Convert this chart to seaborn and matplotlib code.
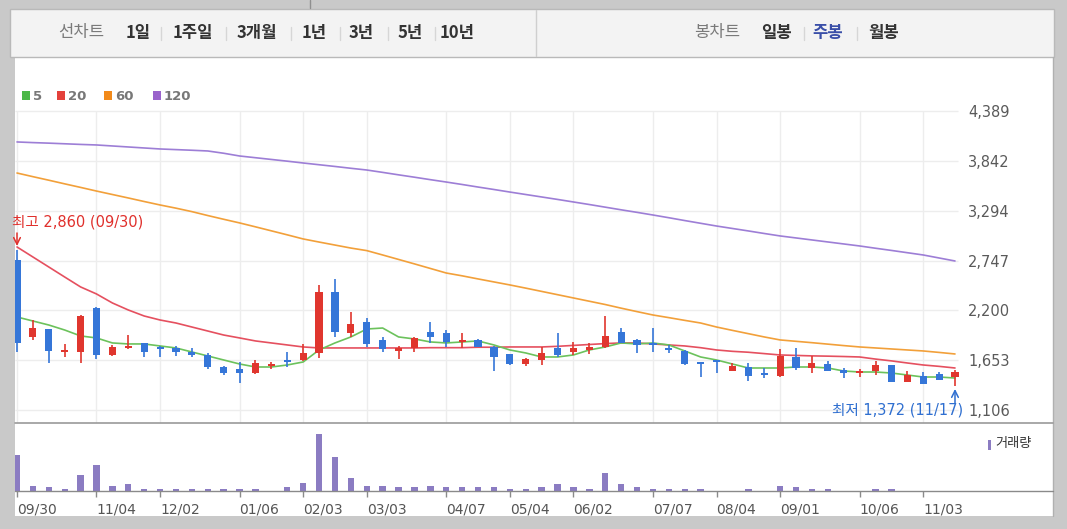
import numpy as np
import pandas as pd
import matplotlib
matplotlib.use("Agg")
import matplotlib.pyplot as plt
import seaborn as sns
from matplotlib.patches import Rectangle
from matplotlib.lines import Line2D

# ---------------- data ----------------
opens = [2753, 1908, 1995, 1743, 1743, 2226, 1710, 1787, 1842, 1798,
         1787, 1743, 1710, 1578, 1556, 1512, 1589, 1655, 1655, 1732,
         2402, 1951, 2072, 1875, 1754, 1787, 1962, 1951, 1853, 1875,
         1798, 1721, 1611, 1655, 1787, 1743, 1765, 1798, 1962, 1875,
         1842, 1787, 1754, 1622, 1644, 1534, 1578, 1512, 1479, 1688,
         1567, 1611, 1534, 1512, 1534, 1600, 1413, 1479, 1501, 1468]
closes = [1842, 2006, 1754, 1765, 2138, 1710, 1798, 1809, 1743, 1776,
          1743, 1710, 1578, 1512, 1512, 1622, 1611, 1633, 1732, 2402,
          1962, 2050, 1831, 1776, 1787, 1897, 1908, 1853, 1864, 1798,
          1688, 1611, 1666, 1732, 1710, 1787, 1798, 1919, 1842, 1820,
          1820, 1765, 1611, 1611, 1633, 1589, 1479, 1490, 1699, 1567,
          1622, 1534, 1523, 1534, 1600, 1413, 1490, 1391, 1435, 1523]
highs = [2860, 2094, 1995, 1831, 2149, 2237, 1820, 1930, 1842, 1809,
         1809, 1787, 1732, 1589, 1633, 1655, 1633, 1743, 1831, 2479,
         2544, 2182, 2116, 1908, 1809, 1908, 2072, 1984, 1951, 1880,
         1805, 1725, 1677, 1798, 1951, 1853, 1842, 2138, 2006, 1886,
         2006, 1820, 1765, 1625, 1655, 1622, 1622, 1567, 1776, 1787,
         1699, 1644, 1567, 1556, 1644, 1605, 1534, 1523, 1523, 1545]
lows = [1743, 1875, 1622, 1688, 1622, 1666, 1699, 1776, 1688, 1688,
        1699, 1688, 1556, 1490, 1402, 1501, 1556, 1578, 1644, 1677,
        1908, 1908, 1798, 1743, 1666, 1743, 1842, 1798, 1787, 1795,
        1534, 1600, 1589, 1600, 1688, 1710, 1721, 1787, 1838, 1732,
        1743, 1732, 1600, 1468, 1512, 1530, 1424, 1457, 1468, 1545,
        1512, 1530, 1457, 1468, 1490, 1410, 1410, 1388, 1432, 1372]
volumes = [360, 50, 40, 20, 165, 260, 50, 70, 25, 25,
           20, 20, 20, 20, 20, 20, 5, 40, 85, 570,
           340, 135, 50, 50, 40, 40, 55, 40, 40, 40,
           40, 25, 20, 40, 70, 40, 25, 180, 70, 40,
           20, 20, 20, 20, 5, 5, 25, 5, 55, 40,
           20, 20, 5, 5, 20, 20, 4, 4, 4, 4]
ma5 = [2127, 2083, 2039, 1984, 1919, 1897, 1842, 1831, 1831, 1809,
       1787, 1743, 1699, 1655, 1611, 1578, 1578, 1600, 1633, 1765,
       1842, 1908, 1995, 2006, 1908, 1886, 1853, 1842, 1853, 1864,
       1820, 1765, 1732, 1688, 1688, 1710, 1765, 1798, 1842, 1831,
       1842, 1820, 1754, 1688, 1655, 1611, 1567, 1567, 1567, 1578,
       1578, 1567, 1534, 1523, 1523, 1512, 1490, 1468, 1468, 1457]
ma20 = [2896, 2786, 2676, 2566, 2457, 2380, 2281, 2204, 2138, 2094,
        2061, 2017, 1973, 1929, 1897, 1864, 1842, 1820, 1798, 1787,
        1787, 1787, 1787, 1787, 1787, 1787, 1790, 1790, 1790, 1795,
        1795, 1798, 1798, 1798, 1805, 1815, 1825, 1835, 1842, 1842,
        1831, 1820, 1809, 1790, 1765, 1750, 1740, 1725, 1710, 1705,
        1700, 1697, 1693, 1688, 1665, 1645, 1622, 1600, 1585, 1567]
ma60 = [3708, 3668, 3629, 3589, 3550, 3510, 3472, 3434, 3395, 3357,
        3322, 3284, 3241, 3200, 3160, 3117, 3073, 3029, 2984, 2950,
        2917, 2884, 2856, 2808, 2759, 2710, 2660, 2610, 2579, 2545,
        2512, 2479, 2444, 2408, 2372, 2336, 2300, 2264, 2224, 2186,
        2149, 2120, 2090, 2061, 2017, 1980, 1944, 1908, 1875, 1860,
        1845, 1829, 1813, 1798, 1787, 1776, 1765, 1754, 1738, 1721]
ma120 = [4049, 4042, 4036, 4029, 4022, 4016, 4005, 3994, 3983, 3972,
         3965, 3958, 3950, 3925, 3895, 3876, 3857, 3838, 3818, 3799,
         3780, 3760, 3741, 3715, 3688, 3662, 3635, 3609, 3582, 3554,
         3527, 3499, 3472, 3445, 3418, 3390, 3362, 3333, 3304, 3276,
         3247, 3217, 3186, 3156, 3126, 3099, 3072, 3044, 3017, 2995,
         2973, 2951, 2929, 2907, 2882, 2858, 2833, 2808, 2775, 2742]
price_ticks = [1106, 1653, 2200, 2747, 3294, 3842, 4389]
tick_labels = ["09/30", "11/04", "12/02", "01/06", "02/03", "03/03", "04/07",
               "05/04", "06/02", "07/07", "08/04", "09/01", "10/06", "11/03"]
tick_weeks = [0, 5, 9, 14, 18, 22, 27, 31, 35, 40, 44, 48, 53, 57]
ma_names = ["5", "20", "60", "120"]
period_tabs = ["1일", "1주일", "3개월", "1년", "3년", "5년", "10년"]
candle_tabs = ["일봉", "주봉", "월봉"]
high_text = "최고 2,860 (09/30)"
low_text = "최저 1,372 (11/17)"

# ---------------- style ----------------
sns.set_theme(style="white")
plt.rcParams["font.family"] = ["Noto Sans CJK KR", "DejaVu Sans"]
LATIN_FIRST = ["DejaVu Sans", "Noto Sans CJK KR"]

W, H = 1067, 529
def fx(x): return x / W
def fy(y): return 1 - y / H

UP = "#e0362e"
DOWN = "#3576d8"
MA_COLORS = ["#6cc25c", "#e5505f", "#f2a03a", "#9d7ed6"]
LEG_COLORS = ["#4cb848", "#e4413b", "#f28a1a", "#9a63cc"]
VOL = "#8b7cc2"
GRID = "#ededed"

fig = plt.figure(figsize=(W / 100, H / 100), dpi=100, facecolor="#c9c9c9")

# background panels (behind the axes)
fig.patches.append(Rectangle((fx(15), fy(516)), (1053 - 15) / W, (516 - 57) / H,
                             transform=fig.transFigure, facecolor="white",
                             edgecolor="none", zorder=-5))
fig.patches.append(Rectangle((fx(10), fy(57)), (1054 - 10) / W, (57 - 9) / H,
                             transform=fig.transFigure, facecolor="#f3f3f3",
                             edgecolor="#b9b9b9", lw=1.0, zorder=-5))
fig.lines.append(Line2D([fx(536), fx(536)], [fy(10), fy(56)], transform=fig.transFigure,
                        color="#cfcfcf", lw=1))
fig.lines.append(Line2D([fx(310), fx(310)], [fy(0), fy(8)], transform=fig.transFigure,
                        color="#8f8f8f", lw=1))
fig.lines.append(Line2D([fx(1053), fx(1053)], [fy(57), fy(516)], transform=fig.transFigure,
                        color="#b0b0b0", lw=1))
fig.lines.append(Line2D([fx(15), fx(1053)], [fy(423), fy(423)], transform=fig.transFigure,
                        color="#9a9a9a", lw=1.2))
fig.lines.append(Line2D([fx(15), fx(1053)], [fy(491), fy(491)], transform=fig.transFigure,
                        color="#8a8a8a", lw=1.0))

# toolbar texts
TB = 12
fig.text(fx(81), fy(33), "선차트", color="#7a7a7a", fontsize=TB, ha="center", va="center")
tab_x = [138, 193, 257, 314, 361, 410, 457]
for t, x in zip(period_tabs, tab_x):
    fig.text(fx(x), fy(33), t, color="#333333", fontsize=TB, fontweight="bold",
             ha="center", va="center")
for x in [161, 226, 291, 340, 388, 435]:
    fig.lines.append(Line2D([fx(x), fx(x)], [fy(27), fy(40)], transform=fig.transFigure,
                            color="#d6d6d6", lw=1))
fig.text(fx(717), fy(33), "봉차트", color="#7a7a7a", fontsize=TB, ha="center", va="center")
for t, x, c in zip(candle_tabs, [776, 828, 884], ["#333333", "#3a4fa8", "#333333"]):
    fig.text(fx(x), fy(33), t, color=c, fontsize=TB, fontweight="bold",
             ha="center", va="center")
for x in [804, 857]:
    fig.lines.append(Line2D([fx(x), fx(x)], [fy(27), fy(40)], transform=fig.transFigure,
                            color="#d6d6d6", lw=1))

# legend
for name, col, sx in zip(ma_names, LEG_COLORS, [22, 57, 104, 153]):
    fig.patches.append(Rectangle((fx(sx), fy(100)), 8 / W, 9 / H, transform=fig.transFigure,
                                 facecolor=col, edgecolor="none"))
    fig.text(fx(sx + 11), fy(96), name, color="#777777", fontsize=9.5, fontweight="bold",
             ha="left", va="center", family="DejaVu Sans")

# ---------------- price axes ----------------
sp = (955 - 17) / 59.0
x_left = (15 - 17) / sp
x_right = 59 + (960 - 955) / sp
ax = fig.add_axes([fx(15), fy(423), 945 / W, 363 / H])
ax.set_facecolor("none")
for s in ax.spines.values():
    s.set_visible(False)

idx = np.arange(len(opens))
o = np.array(opens, float); c = np.array(closes, float)
h = np.array(highs, float); l = np.array(lows, float)

# grid
ax.hlines(price_ticks, x_left, x_right - 0.15, color=GRID, lw=1, zorder=0)
ax.vlines(tick_weeks, 963, 4389, color=GRID, lw=1, zorder=0)

# MA lines via seaborn
df = pd.DataFrame({"idx": idx, "ma5": ma5, "ma20": ma20, "ma60": ma60, "ma120": ma120})
for col, mc in zip(["ma120", "ma60", "ma20", "ma5"], MA_COLORS[::-1]):
    sns.lineplot(data=df, x="idx", y=col, color=mc, lw=1.2, ax=ax, zorder=2)

# candles
up = c >= o
cols = np.where(up, UP, DOWN)
ax.vlines(idx, l, h, colors=cols, lw=1.2, zorder=3)
minh = 22.0
body = np.abs(c - o)
bottom = np.minimum(o, c)
bh = np.maximum(body, minh)
bottom = bottom - (bh - body) / 2
ax.bar(idx, bh, bottom=bottom, width=0.45, color=cols, linewidth=0, zorder=4)

ax.set_xlim(x_left, x_right)
ax.set_ylim(963, 4949)
ax.set_xlabel(""); ax.set_ylabel("")
ax.set_xticks([])
ax.yaxis.tick_right()
ax.set_yticks(price_ticks, [f"{v:,}" for v in price_ticks])
ax.tick_params(axis="y", length=0, pad=6, labelsize=10.5, labelcolor="#5a5a5a")
for t in ax.get_yticklabels():
    t.set_family("DejaVu Sans")

# annotations
ax.text(x_left + (12 - 15) / sp, 1106 + (410 - 222) * 10.98, high_text, color="#e0302c",
        fontsize=10.5, ha="left", va="center", family=LATIN_FIRST)
ax.annotate("", xy=(0, 1106 + (410 - 246) * 10.98), xytext=(0, 1106 + (410 - 233) * 10.98),
            arrowprops=dict(arrowstyle="->", color="#e0302c", lw=1.1, shrinkA=0, shrinkB=0))
ax.text(59 + (963 - 955) / sp, 1106 + (410 - 410) * 10.98, low_text, color="#2f6fd0",
        fontsize=10.5, ha="right", va="center", family=LATIN_FIRST)
ax.annotate("", xy=(59, 1106 + (410 - 389) * 10.98), xytext=(59, 1106 + (410 - 403) * 10.98),
            arrowprops=dict(arrowstyle="->", color="#2f6fd0", lw=1.1, shrinkA=0, shrinkB=0))

# ---------------- volume axes ----------------
axv = fig.add_axes([fx(15), fy(491), 945 / W, 68 / H])
axv.set_facecolor("none")
vdf = pd.DataFrame({"idx": idx, "vol": volumes})
axv.bar(vdf["idx"], vdf["vol"], width=0.4, color=VOL, linewidth=0, zorder=2)
axv.set_xlim(x_left, x_right)
axv.set_ylim(0, 680)
for s in axv.spines.values():
    s.set_visible(False)
axv.set_yticks([])
axv.set_xticks(tick_weeks, tick_labels)
axv.tick_params(axis="x", length=4, width=1, color="#8a8a8a", pad=4, labelsize=10,
                labelcolor="#555555", direction="out", bottom=True)
for t in axv.get_xticklabels():
    t.set_ha("left")
    t.set_family("DejaVu Sans")

fig.patches.append(Rectangle((fx(988), fy(450)), 3 / W, 10 / H, transform=fig.transFigure,
                             facecolor=VOL, edgecolor="none"))
fig.text(fx(995), fy(444), "거래량", color="#333333", fontsize=9.5, ha="left", va="center")

fig.savefig("out.png", dpi=100, facecolor=fig.get_facecolor())
